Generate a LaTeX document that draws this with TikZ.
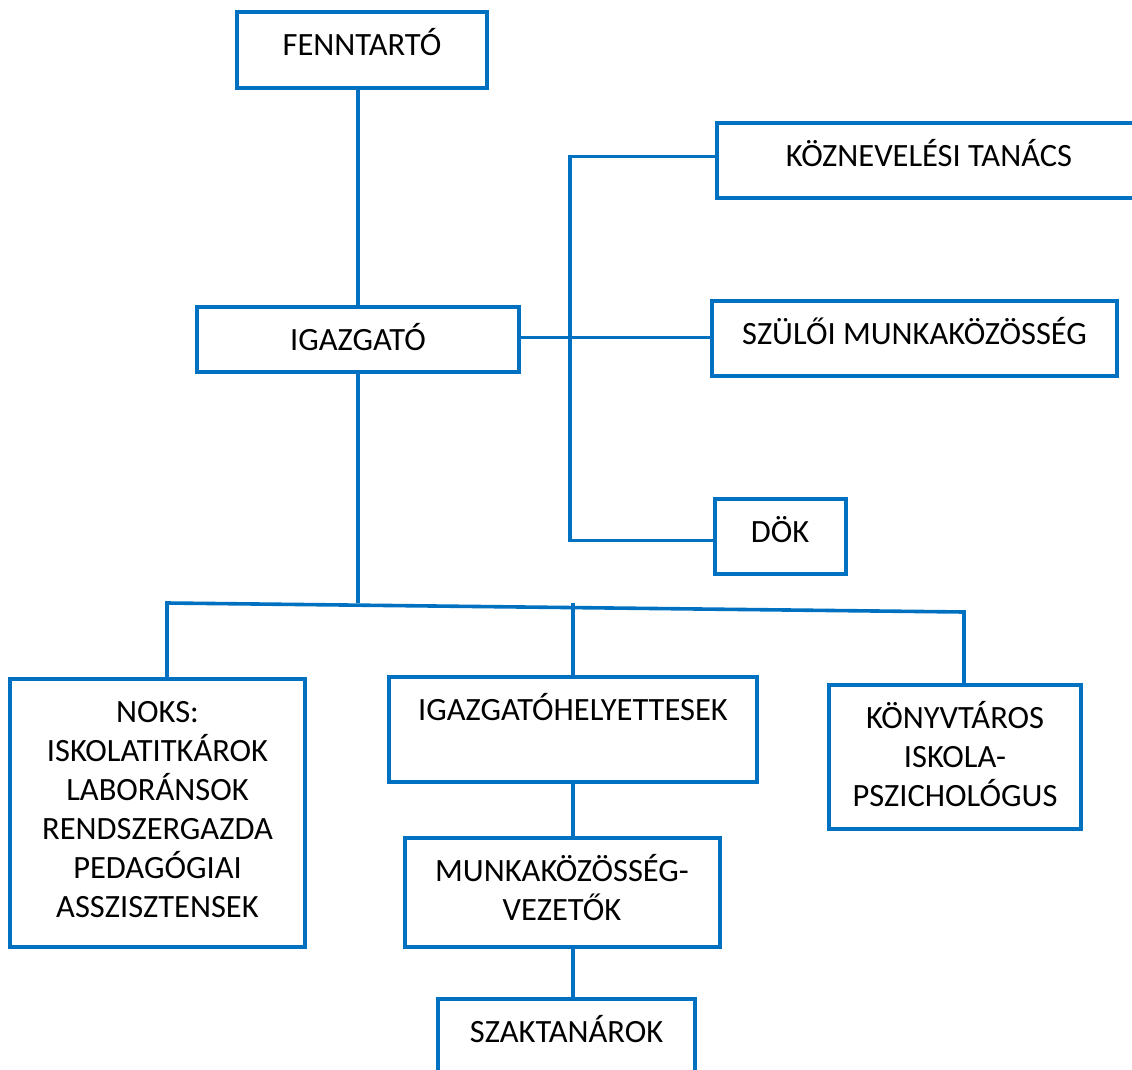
\documentclass[tikz,border=0pt]{standalone}
\usepackage{fontspec}
\setmainfont{Carlito}
\usepackage{tikz}
\definecolor{orgblue}{HTML}{0070C0}

\begin{document}
\begin{tikzpicture}[x=1pt,y=-1pt,
 box/.style={draw=orgblue,line width=4pt,inner sep=0pt,align=center,font=\fontsize{32.5}{39}\selectfont},
 textpos/.style 2 args={text height=#1,text depth=#2},
 link/.style={draw=orgblue,line width=3.6pt}]
 \clip (0,0) rectangle (1132,1070);
 \useasboundingbox (0,0) rectangle (1132,1070);

 \node [box,textpos={43.5pt}{32.5pt},minimum width=250pt] (fenn)at (362,50){FENNTARTÓ};
 \node [box,textpos={43.5pt}{21.5pt},minimum width=322pt] (igaz)at (358,339.5){IGAZGATÓ};
 \node [box,textpos={43.5pt}{31.5pt},minimum width=424pt] (kozn)at (929,160.5){KÖZNEVELÉSI TANÁCS};
 \node [box,textpos={43.5pt}{31.5pt},minimum width=405pt] (szul)at (914.5,338.5){SZÜLŐI MUNKAKÖZÖSSÉG};
 \node [box,textpos={43.5pt}{31.5pt},minimum width=131pt] (dok)at (780,536.5){DÖK};

 \node [box,textpos={238.5pt}{29.5pt},minimum width=295pt] (noks)at (157.5,813){NOKS:\\ISKOLATITKÁROK\\LABORÁNSOK\\RENDSZERGAZDA\\PEDAGÓGIAI\\ASSZISZTENSEK};
 \node [box,textpos={43.5pt}{61.5pt},minimum width=368pt] (igh)at (573,729.5){IGAZGATÓHELYETTESEK};
 \node [box,textpos={121.5pt}{22.5pt},minimum width=252pt] (konyv)at (955,757){KÖNYVTÁROS\\ISKOLA-\\PSZICHOLÓGUS};
 \node [box,textpos={82.5pt}{26.5pt},minimum width=315pt] (mkv)at (562,892.5){MUNKAKÖZÖSSÉG-\\VEZETŐK};
 \node [box,textpos={43.5pt}{61.5pt},minimum width=257pt] (szak)at (566.5,1051.5){SZAKTANÁROK};

 \coordinate (rail) at (570,338);
 \coordinate (busL) at (167,603);
 \coordinate (busR) at (964,612);

 \draw[link] (igaz.north) -- (igaz.north |- fenn.south);
 \draw[link] ([yshift=4pt]kozn.west) -| (rail) |- ([yshift=-4pt]dok.west);
 \draw[link] ([yshift=2pt]igaz.east) -- ([yshift=2pt]igaz.east -| szul.west);

 \draw[link] (igaz.south) -- (igaz.south |- busL);
 \draw[link] (noks.north -| busL) -- (busL) -- (busR) -- (konyv.north -| busR);
 \draw[link] (igh.north) -- (igh.north |- busL);
 \draw[link] (igh.south) -- (igh.south |- mkv.north);
 \draw[link] (mkv.south -| igh.south) -- (szak.north -| igh.south);

\end{tikzpicture}
\end{document}
